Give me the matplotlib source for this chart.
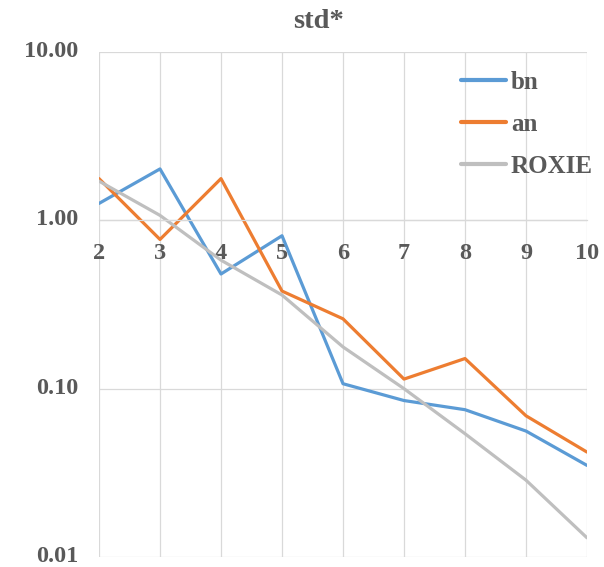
import matplotlib
matplotlib.use("Agg")
import matplotlib.pyplot as plt
import matplotlib.transforms as mtransforms
from matplotlib.ticker import FixedLocator, FixedFormatter, NullLocator

orders = [2, 3, 4, 5, 6, 7, 8, 9, 10]
bn = [1.26, 2.02, 0.48, 0.81, 0.107, 0.085, 0.075, 0.056, 0.035]
an = [1.77, 0.77, 1.77, 0.38, 0.26, 0.114, 0.151, 0.069, 0.042]
roxie = [1.71, 1.07, 0.58, 0.36, 0.177, 0.100, 0.054, 0.0286, 0.013]
yticks = [0.01, 0.1, 1, 10]
ytick_labels = ["0.01", "0.10", "1.00", "10.00"]

W, H = 604, 567
fig = plt.figure(figsize=(W / 100, H / 100), dpi=100)
ax = fig.add_axes([99 / W, 1 - 557 / H, (587 - 99) / W, (557 - 52) / H])

txt = "#595959"
grid = "#d9d9d9"
font = dict(family="Liberation Serif", weight="bold")

ax.plot(orders, bn, color="#5B9BD5", lw=2.3, label="bn", solid_capstyle="round")
ax.plot(orders, an, color="#ED7D31", lw=2.3, label="an", solid_capstyle="round")
ax.plot(orders, roxie, color="#BFBFBF", lw=2.3, label="ROXIE", solid_capstyle="round")

ax.set_yscale("log")
ax.set_ylim(0.01, 10)
ax.set_xlim(2, 10)
ax.yaxis.set_major_locator(FixedLocator(yticks))
ax.yaxis.set_major_formatter(FixedFormatter(ytick_labels))
ax.yaxis.set_minor_locator(NullLocator())
ax.set_xticks(orders)
ax.set_xticklabels([str(o) for o in orders])

ax.grid(True, color=grid, lw=0.9)
ax.set_axisbelow(True)
for s in ["top", "right", "left"]:
    ax.spines[s].set_visible(False)
ax.spines["bottom"].set_position(("data", 1))
ax.spines["bottom"].set_color(grid)
ax.spines["bottom"].set_linewidth(0.9)

ax.tick_params(axis="both", length=0, colors=txt)
ax.tick_params(axis="y", pad=15)
ax.tick_params(axis="x", pad=16)
for lab in ax.get_xticklabels() + ax.get_yticklabels():
    lab.set_fontfamily("Liberation Serif")
    lab.set_fontweight("bold")
    lab.set_fontsize(17.5)
    lab.set_color(txt)
shift = mtransforms.ScaledTranslation(0, 3 / 100, fig.dpi_scale_trans)
for lab in ax.get_yticklabels():
    lab.set_transform(lab.get_transform() + shift)

fig.text(318 / W, 1 - 21 / H, "std*", ha="center", va="center",
         fontsize=20.5, color=txt, **font)

leg = ax.legend(loc="upper left", bbox_to_anchor=(461 / W, 1 - 71 / H),
                bbox_transform=fig.transFigure, frameon=False,
                borderpad=0, borderaxespad=0, handlelength=1.8,
                handletextpad=0.2, labelspacing=0.76,
                prop=dict(family="Liberation Serif", weight="bold", size=18))
for t in leg.get_texts():
    t.set_color(txt)
for h in leg.get_lines():
    h.set_linewidth(3)

fig.savefig("out.png", dpi=100)
